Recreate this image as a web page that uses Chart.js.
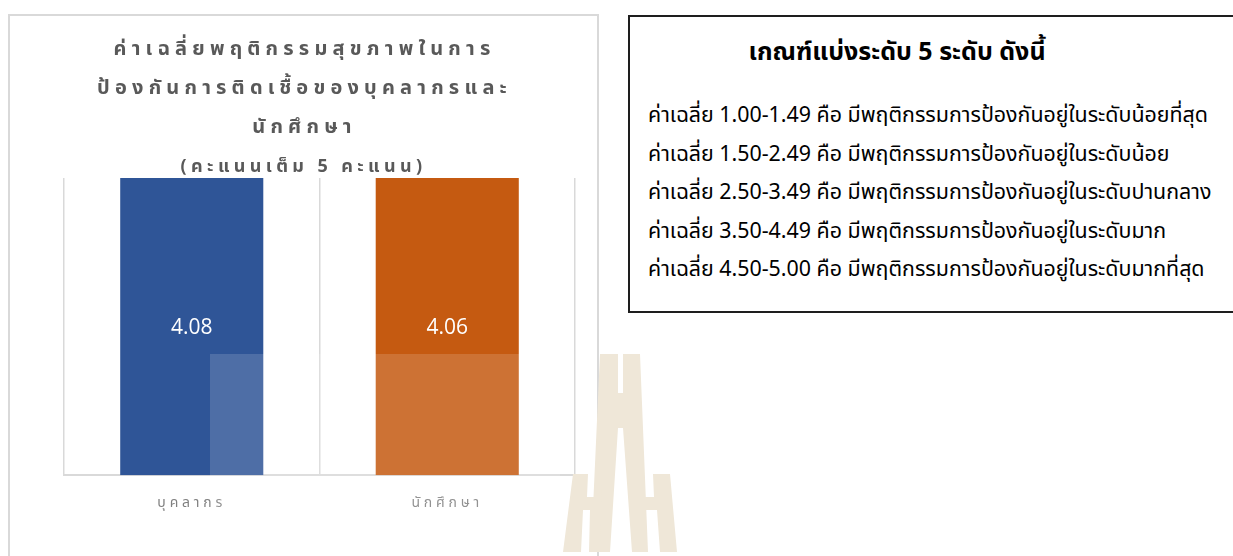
<!DOCTYPE html>
<html><head><meta charset="utf-8">
<script src="https://cdn.jsdelivr.net/npm/chart.js@4.4.1/dist/chart.umd.min.js"></script>
<style>
html,body{margin:0;padding:0;width:1233px;height:556px;overflow:hidden;background:#fff;}
body{font-family:Tahoma,"Noto Sans Thai","Loma","Garuda",sans-serif;}
#box{position:absolute;left:8px;top:14px;width:591px;height:600px;border:2px solid #d9d9d9;box-sizing:border-box;}
#cwrap{position:absolute;left:0;top:0;width:587px;height:540px;}
#crit{position:absolute;left:628px;top:15px;width:640px;height:298px;border:2px solid #1e1e1e;box-sizing:border-box;}
#critHead{position:absolute;left:0;top:16px;width:534px;text-align:center;font-weight:bold;font-size:25px;color:#000;}
#critList{position:absolute;left:18px;top:80px;font-size:21.4px;line-height:38.5px;color:#000;white-space:nowrap;}
#shade{position:absolute;left:210px;top:354px;width:350px;height:202px;background:rgba(255,255,255,0.15);pointer-events:none;}
#wm{position:absolute;left:560px;top:340px;width:160px;height:216px;pointer-events:none;}
</style></head>
<body>
<div id="box"><div id="cwrap"><canvas id="c"></canvas></div></div>
<div id="crit"><div id="critHead"></div><div id="critList"></div></div>
<div id="shade"></div>
<svg id="wm" viewBox="560 340 160 216" xmlns="http://www.w3.org/2000/svg">
<g fill="#EFE7D8">
<polygon points="600,354 618,354 618,393 623,393 623,354 640,354 648,552 632,552 623,428 618,428 610,552 591,552"/>
<polygon points="573,474 588,474 587,497 598,497 598,474 602,474 600,552 589,552 590,510 583,510 581,552 563,552"/>
<polygon points="653,474 670,474 677,552 660,552 657,510 643,510 643,497 654,497"/>
</g>
</svg>
<script>
const categories = ['บุคลากร', 'นักศึกษา'];
const values = [4.08, 4.06];
const barColors = ['#2F5597', '#C55A11'];
const titleLines = ['ค่าเฉลี่ยพฤติกรรมสุขภาพในการ', 'ป้องกันการติดเชื้อของบุคลากรและ', 'นักศึกษา'];
const subtitleLine = '(คะแนนเต็ม 5 คะแนน)';
const criteriaHeading = 'เกณฑ์แบ่งระดับ 5 ระดับ ดังนี้';
const criteriaLines = [
  'ค่าเฉลี่ย 1.00-1.49 คือ มีพฤติกรรมการป้องกันอยู่ในระดับน้อยที่สุด',
  'ค่าเฉลี่ย 1.50-2.49 คือ มีพฤติกรรมการป้องกันอยู่ในระดับน้อย',
  'ค่าเฉลี่ย 2.50-3.49 คือ มีพฤติกรรมการป้องกันอยู่ในระดับปานกลาง',
  'ค่าเฉลี่ย 3.50-4.49 คือ มีพฤติกรรมการป้องกันอยู่ในระดับมาก',
  'ค่าเฉลี่ย 4.50-5.00 คือ มีพฤติกรรมการป้องกันอยู่ในระดับมากที่สุด'
];

document.getElementById('critHead').textContent = criteriaHeading;
const list = document.getElementById('critList');
criteriaLines.forEach(t => { const d = document.createElement('div'); d.textContent = t; list.appendChild(d); });

const THAI = 'Tahoma, "Noto Sans Thai", Loma, Garuda, sans-serif';

const spacingPlugin = {
  id: 'spacing',
  beforeDraw(chart) { chart.ctx.letterSpacing = '3.8px'; },
  afterDraw(chart) { chart.ctx.letterSpacing = '0px'; }
};

const titlePlugin = {
  id: 'multiTitle',
  afterDraw(chart) {
    const ctx = chart.ctx;
    ctx.save();
    ctx.fillStyle = '#595959';
    ctx.textAlign = 'center';
    ctx.textBaseline = 'middle';
    const cx = chart.width / 2 + 1;
    ctx.letterSpacing = '5.2px';
    ctx.font = 'bold 20px ' + THAI;
    titleLines.forEach((t, i) => ctx.fillText(t, cx, 35 + i * 39));
    ctx.letterSpacing = '4.4px';
    ctx.font = 'bold 18px ' + THAI;
    ctx.fillText(subtitleLine, cx - 1, 35 + 3 * 39);
    ctx.restore();
  }
};

const valueLabels = {
  id: 'valueLabels',
  afterDatasetsDraw(chart) {
    const { ctx, chartArea } = chart;
    const meta = chart.getDatasetMeta(0);
    ctx.save();
    ctx.letterSpacing = '0px';
    ctx.fillStyle = '#ffffff';
    ctx.font = '21px "Open Sans", Lato, sans-serif';
    ctx.textAlign = 'center';
    ctx.textBaseline = 'middle';
    meta.data.forEach((bar, i) => {
      const top = Math.max(Math.min(bar.y, bar.base), chartArea.top);
      const bottom = Math.min(Math.max(bar.y, bar.base), chartArea.bottom);
      ctx.fillText(values[i].toFixed(2), bar.x, (top + bottom) / 2 + 1);
    });
    ctx.restore();
  }
};

new Chart(document.getElementById('c'), {
  type: 'bar',
  data: {
    labels: categories,
    datasets: [{ data: values, backgroundColor: barColors, borderWidth: 0, barPercentage: 0.56, categoryPercentage: 1 }]
  },
  options: {
    responsive: true,
    maintainAspectRatio: false,
    animation: false,
    layout: { padding: { left: 54, right: 22, top: 162, bottom: 22 } },
    plugins: { legend: { display: false }, title: { display: false }, tooltip: { enabled: false } },
    scales: {
      x: {
        grid: { offset: true, color: '#d9d9d9', lineWidth: 1.5, drawTicks: false },
        border: { display: true, color: '#d9d9d9', width: 2 },
        ticks: { color: '#7f7f7f', padding: 21, font: { size: 14, family: THAI } }
      },
      y: { display: false, min: 0, max: 4 }
    }
  },
  plugins: [spacingPlugin, valueLabels, titlePlugin]
});
</script>
</body></html>
